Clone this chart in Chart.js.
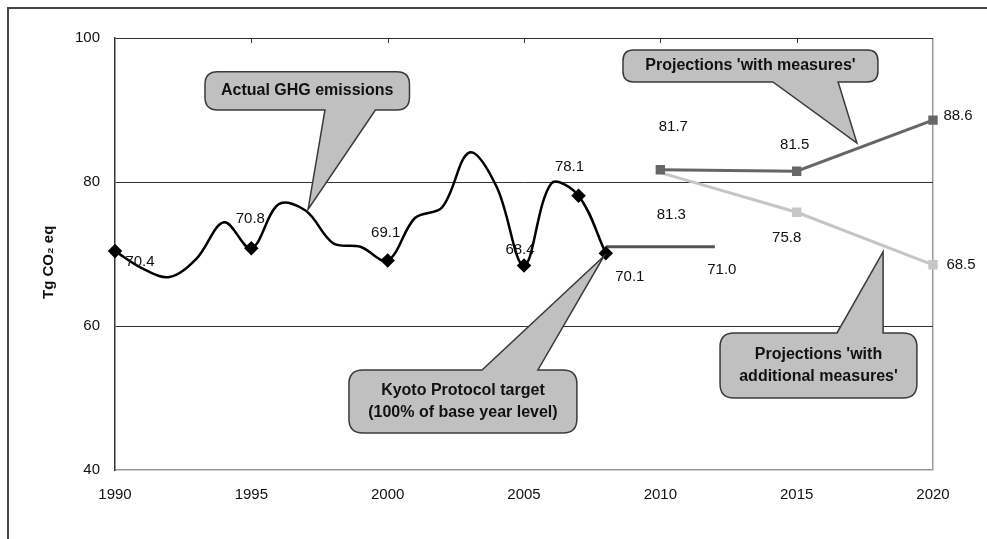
<!DOCTYPE html>
<html>
<head>
<meta charset="utf-8">
<script src="https://cdn.jsdelivr.net/npm/chart.js@4/dist/chart.umd.min.js"></script>
<style>
  html, body { margin: 0; padding: 0; background: #fff; }
  canvas { display: block; }
</style>
</head>
<body>
<canvas id="graphique" width="987" height="539" style="width:987px;height:539px"></canvas>
<script>
// Données
const years = [1990, 1991, 1992, 1993, 1994, 1995, 1996, 1997, 1998, 1999,
               2000, 2001, 2002, 2003, 2004, 2005, 2006, 2007, 2008];
const actualEmissions = [70.4, 68.0, 66.8, 69.4, 74.4, 70.8, 76.9, 76.0, 71.5, 71.0,
                         69.1, 75.0, 76.5, 84.1, 79.3, 68.4, 79.8, 78.1, 70.1];
const markedYears = [1990, 1995, 2000, 2005, 2007, 2008];
const kyotoYears = [2008, 2012];
const kyotoTarget = [71.0, 71.0];
const projectionYears = [2010, 2015, 2020];
const withMeasures = [81.7, 81.5, 88.6];
const withAdditionalMeasures = [81.3, 75.8, 68.5];
const xTicks = [1990, 1995, 2000, 2005, 2010, 2015, 2020];
const yTicks = [40, 60, 80, 100];

const FONT = "'Liberation Sans', Arial, sans-serif";

document.addEventListener("DOMContentLoaded", function () {
    const ctx = document.getElementById("graphique").getContext("2d");

    const toPoints = (xs, ys) => xs.map((x, i) => ({ x: x, y: ys[i] }));

    // décalages (px) des étiquettes de valeurs, par jeu de données et par année
    const labelOffsets = [
        { 1990: [25, 11], 1995: [-1, -29], 2000: [-2, -28], 2005: [-4, -16], 2007: [-9, -29], 2008: [24, 24] },
        { 2012: [7, 23] },
        { 2010: [13, -43], 2015: [-2, -26], 2020: [25, -4] },
        { 2010: [11, 42], 2015: [-10, 26], 2020: [28, 0] }
    ];

    // bulles (coordonnées en années / Tg)
    const callouts = [
        { lines: ["Actual GHG emissions"], box: [1993.3, 95.3, 2000.8, 90.0], side: "bottom", base: [1997.7, 1999.55], tip: [1997.08, 76.2] },
        { lines: ["Projections 'with measures'"], box: [2008.63, 98.33, 2017.98, 93.89], side: "bottom", base: [2014.13, 2016.52], tip: [2017.21, 85.4] },
        { lines: ["Kyoto Protocol target", "(100% of base year level)"], box: [1998.58, 53.89, 2006.94, 45.14], side: "top", base: [2003.46, 2005.51], tip: [2007.93, 69.7] },
        { lines: ["Projections 'with", "additional measures'"], box: [2012.19, 59.03, 2019.41, 50.0], side: "top", base: [2016.48, 2018.17], tip: [2018.17, 70.3] }
    ];

    const framePlugin = {
        id: "frame",
        beforeDraw(chart) {
            const c = chart.ctx;
            c.save();
            c.fillStyle = "#fff";
            c.fillRect(0, 0, chart.width, chart.height);
            c.strokeStyle = "#444";
            c.lineWidth = 2;
            c.beginPath();
            c.moveTo(8, chart.height);
            c.lineTo(8, 8);
            c.lineTo(chart.width, 8);
            c.stroke();
            c.restore();
        },
        afterDraw(chart) {
            // petites graduations vers l'intérieur en haut
            const c = chart.ctx, xs = chart.scales.x, top = chart.chartArea.top;
            c.save();
            c.strokeStyle = "#333";
            c.lineWidth = 1;
            xTicks.slice(1, -1).forEach(v => {
                const px = Math.round(xs.getPixelForValue(v)) + 0.5;
                c.beginPath();
                c.moveTo(px, top);
                c.lineTo(px, top + 5);
                c.stroke();
            });
            c.restore();
        }
    };

    function calloutPath(c, l, t, r, b, rad, side, b1, b2, tx, ty) {
        c.beginPath();
        c.moveTo(l + rad, t);
        if (side === "top") { c.lineTo(b1, t); c.lineTo(tx, ty); c.lineTo(b2, t); }
        c.lineTo(r - rad, t);
        c.quadraticCurveTo(r, t, r, t + rad);
        c.lineTo(r, b - rad);
        c.quadraticCurveTo(r, b, r - rad, b);
        if (side === "bottom") { c.lineTo(b2, b); c.lineTo(tx, ty); c.lineTo(b1, b); }
        c.lineTo(l + rad, b);
        c.quadraticCurveTo(l, b, l, b - rad);
        c.lineTo(l, t + rad);
        c.quadraticCurveTo(l, t, l + rad, t);
        c.closePath();
    }

    const annotationPlugin = {
        id: "annotations",
        afterDatasetsDraw(chart) {
            const c = chart.ctx, xs = chart.scales.x, ys = chart.scales.y;
            c.save();

            // étiquettes de valeurs
            c.font = "15px " + FONT;
            c.fillStyle = "#111";
            c.textAlign = "center";
            c.textBaseline = "middle";
            chart.data.datasets.forEach((ds, di) => {
                const offs = labelOffsets[di];
                ds.data.forEach(p => {
                    const o = offs[p.x];
                    if (!o) return;
                    c.fillText(p.y.toFixed(1), xs.getPixelForValue(p.x) + o[0], ys.getPixelForValue(p.y) + o[1]);
                });
            });

            // bulles
            callouts.forEach(co => {
                const l = xs.getPixelForValue(co.box[0]), t = ys.getPixelForValue(co.box[1]);
                const r = xs.getPixelForValue(co.box[2]), b = ys.getPixelForValue(co.box[3]);
                const rad = Math.min(14, (b - t) / 3);
                calloutPath(c, l, t, r, b, rad, co.side,
                    xs.getPixelForValue(co.base[0]), xs.getPixelForValue(co.base[1]),
                    xs.getPixelForValue(co.tip[0]), ys.getPixelForValue(co.tip[1]));
                c.fillStyle = "#c0c0c0";
                c.fill();
                c.strokeStyle = "#3a3a3a";
                c.lineWidth = 1.5;
                c.stroke();

                c.fillStyle = "#111";
                c.font = "bold 16px " + FONT;
                const cy = (t + b) / 2, cx = (l + r) / 2, lh = 22;
                co.lines.forEach((txt, k) => {
                    c.fillText(txt, cx, cy + (k - (co.lines.length - 1) / 2) * lh);
                });
            });
            c.restore();
        }
    };

    new Chart(ctx, {
        type: "line",
        data: {
            datasets: [{
                label: "Actual GHG emissions",
                data: toPoints(years, actualEmissions),
                borderColor: "#000",
                borderWidth: 2.5,
                tension: 0.35,
                pointStyle: "rectRot",
                pointRadius: years.map(y => markedYears.includes(y) ? 5.5 : 0),
                pointBackgroundColor: "#000",
                pointBorderColor: "#000",
                clip: false
            }, {
                label: "Kyoto Protocol target",
                data: toPoints(kyotoYears, kyotoTarget),
                borderColor: "#555",
                borderWidth: 3,
                pointRadius: 0,
                clip: false
            }, {
                label: "Projections 'with measures'",
                data: toPoints(projectionYears, withMeasures),
                borderColor: "#666",
                borderWidth: 3,
                pointStyle: "rect",
                pointRadius: 4.5,
                pointBackgroundColor: "#666",
                pointBorderColor: "#666",
                clip: false
            }, {
                label: "Projections 'with additional measures'",
                data: toPoints(projectionYears, withAdditionalMeasures),
                borderColor: "#c6c6c6",
                borderWidth: 3,
                pointStyle: "rect",
                pointRadius: [0, 4.5, 4.5],
                pointBackgroundColor: "#c6c6c6",
                pointBorderColor: "#c6c6c6",
                clip: false
            }]
        },
        options: {
            responsive: false,
            animation: false,
            devicePixelRatio: 1,
            layout: { padding: { left: 40, top: 38, right: 54, bottom: 29 } },
            plugins: {
                legend: { display: false },
                tooltip: { enabled: false }
            },
            scales: {
                x: {
                    type: "linear",
                    min: 1990,
                    max: 2020,
                    afterBuildTicks: s => { s.ticks = xTicks.map(v => ({ value: v })); },
                    afterFit: s => { s.height = 40; },
                    ticks: {
                        callback: v => String(v),
                        color: "#111",
                        font: { family: FONT, size: 15 },
                        padding: 16,
                        maxRotation: 0
                    },
                    grid: {
                        color: c => (c.tick && c.tick.value === 2020) ? "#999" : "rgba(0,0,0,0)",
                        lineWidth: 1.5,
                        drawTicks: false
                    },
                    border: { color: "#999", width: 1.5 }
                },
                y: {
                    min: 40,
                    max: 100,
                    afterBuildTicks: s => { s.ticks = yTicks.map(v => ({ value: v })); },
                    afterFit: s => { s.width = 75; },
                    ticks: {
                        color: "#111",
                        font: { family: FONT, size: 15 },
                        padding: 15
                    },
                    grid: {
                        color: c => (c.tick && c.tick.value === 40) ? "rgba(0,0,0,0)" : "#333",
                        lineWidth: 1,
                        drawTicks: false
                    },
                    border: { color: "#333", width: 1.5 },
                    title: {
                        display: true,
                        // espaces finales : décale le texte vers le bas comme dans l'original
                        text: "Tg CO\u2082 eq    ",
                        color: "#111",
                        font: { family: FONT, size: 15, weight: "bold" },
                        padding: 0
                    }
                }
            }
        },
        plugins: [framePlugin, annotationPlugin]
    });
});
</script>
</body>
</html>
